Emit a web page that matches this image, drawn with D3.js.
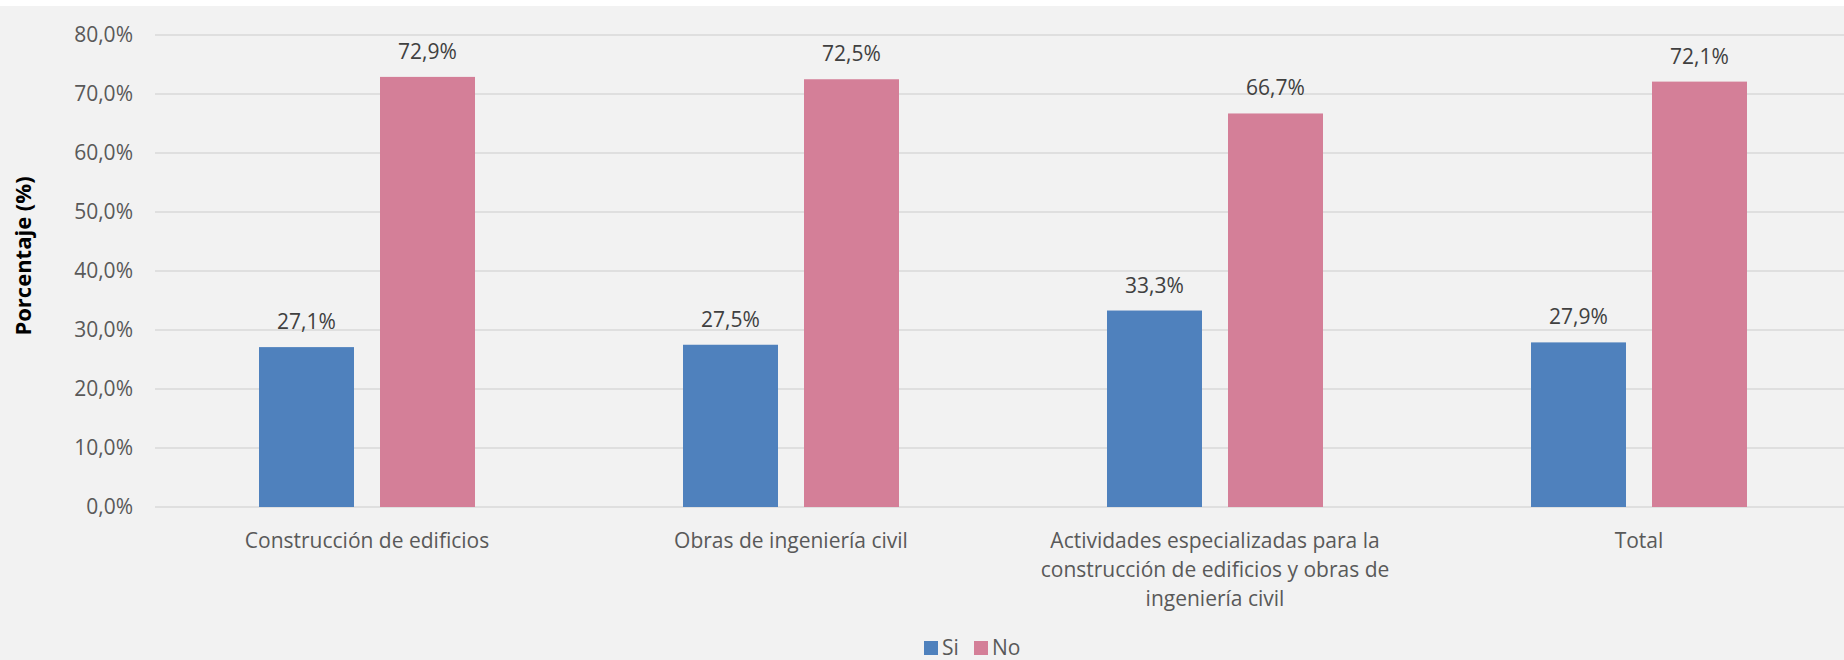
<!DOCTYPE html>
<html>
<head>
<meta charset="utf-8">
<script src="https://cdn.jsdelivr.net/npm/d3@7"></script>
<style>
  html, body { margin: 0; padding: 0; background: #ffffff; }
  svg { display: block; }
</style>
</head>
<body>
<svg id="chart" width="1844" height="660"></svg>
<script>
const categories = [
  "Construcción de edificios",
  "Obras de ingeniería civil",
  "Actividades especializadas para la construcción de edificios y obras de ingeniería civil",
  "Total"
];
const categoryLines = [
  ["Construcción de edificios"],
  ["Obras de ingeniería civil"],
  ["Actividades especializadas para la", "construcción de edificios y obras de", "ingeniería civil"],
  ["Total"]
];
const seriesNames = ["Si", "No"];
const siValues = [27.1, 27.5, 33.3, 27.9];
const noValues = [72.9, 72.5, 66.7, 72.1];
const yTicks = [0, 10, 20, 30, 40, 50, 60, 70, 80];
const colors = { Si: "#4f81bd", No: "#d47f98" };

const svg = d3.select("#chart");
const W = 1844, H = 660;
const FONT = "'Open Sans', sans-serif";
const TXT = "#595959";

svg.append("rect").attr("x", 0).attr("y", 6).attr("width", W).attr("height", H - 6).attr("fill", "#f2f2f2");

const x0 = d3.scaleBand().domain(categories).range([155, 1851]).paddingInner(0.4906).paddingOuter(0.2453);
const x1 = d3.scaleBand().domain(seriesNames).range([0, x0.bandwidth()]).paddingInner(0.215).paddingOuter(0);
const y = d3.scaleLinear().domain([0, 80]).range([507, 35]);

const fmt = v => v.toFixed(1).replace(".", ",") + "%";

// grid
svg.append("g").selectAll("line").data(yTicks).join("line")
  .attr("x1", 155).attr("x2", W)
  .attr("y1", d => y(d)).attr("y2", d => y(d))
  .attr("stroke", "#d9d9d9").attr("stroke-width", 1.5);

// y axis
const yAxis = svg.append("g").attr("transform", "translate(155,0)")
  .call(d3.axisLeft(y).tickValues(yTicks).tickSize(0).tickPadding(22).tickFormat(fmt));
yAxis.select(".domain").remove();
yAxis.selectAll("text").attr("font-family", FONT).attr("font-size", 21).attr("fill", TXT);

// y title
svg.append("text")
  .attr("transform", "translate(31,256) rotate(-90)")
  .attr("text-anchor", "middle")
  .attr("font-family", FONT).attr("font-size", 22).attr("font-weight", "bold").attr("fill", "#000")
  .text("Porcentaje (%)");

// bars
const rows = categories.map((c, i) => ({ cat: c, vals: [{ s: "Si", v: siValues[i] }, { s: "No", v: noValues[i] }] }));
const groups = svg.append("g").selectAll("g").data(rows).join("g")
  .attr("transform", d => `translate(${x0(d.cat)},0)`);
groups.selectAll("rect").data(d => d.vals).join("rect")
  .attr("x", d => x1(d.s)).attr("width", x1.bandwidth())
  .attr("y", d => y(d.v)).attr("height", d => y(0) - y(d.v))
  .attr("fill", d => colors[d.s]);
groups.selectAll("text").data(d => d.vals).join("text")
  .attr("x", d => x1(d.s) + x1.bandwidth() / 2)
  .attr("y", d => y(d.v) - 18)
  .attr("text-anchor", "middle")
  .attr("font-family", FONT).attr("font-size", 21).attr("fill", "#404040")
  .text(d => fmt(d.v));

// x axis labels
const xAxis = svg.append("g").attr("transform", `translate(0,${y(0)})`)
  .call(d3.axisBottom(x0).tickSize(0).tickFormat(""));
xAxis.select(".domain").remove();
xAxis.selectAll(".tick").each(function(d, i) {
  const t = d3.select(this).append("text")
    .attr("text-anchor", "middle")
    .attr("font-family", FONT).attr("font-size", 21).attr("fill", TXT);
  categoryLines[i].forEach((ln, k) => {
    t.append("tspan").attr("x", 0).attr("y", 41 + k * 29).text(ln);
  });
});

// legend
const legend = svg.append("g");
const legendItems = [{ s: "Si", x: 924 }, { s: "No", x: 974 }];
legendItems.forEach(it => {
  legend.append("rect").attr("x", it.x).attr("y", 641).attr("width", 14).attr("height", 14).attr("fill", colors[it.s]);
  legend.append("text").attr("x", it.x + 18).attr("y", 655)
    .attr("font-family", FONT).attr("font-size", 21).attr("fill", TXT).text(it.s);
});
</script>
</body>
</html>
